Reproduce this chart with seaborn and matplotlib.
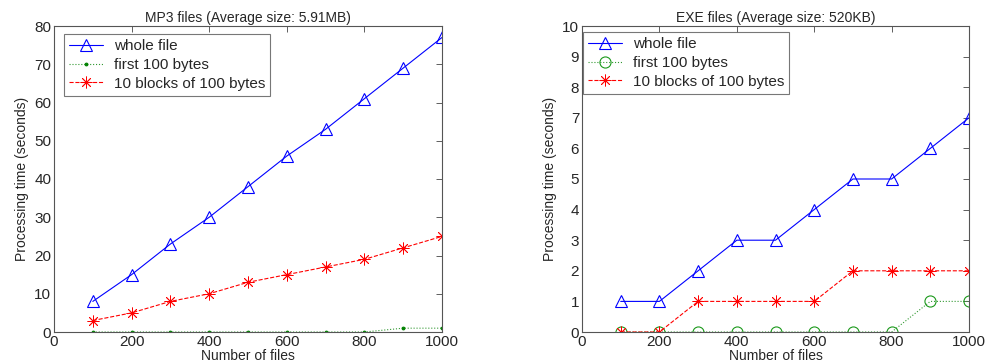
import matplotlib
matplotlib.use("Agg")
import matplotlib.pyplot as plt
import seaborn as sns
import pandas as pd

files = [100, 200, 300, 400, 500, 600, 700, 800, 900, 1000]
series_names = ["whole file", "first 100 bytes", "10 blocks of 100 bytes"]

mp3_whole = [8, 15, 23, 30, 38, 46, 53, 61, 69, 77]
mp3_first = [0, 0, 0, 0, 0, 0, 0, 0, 1, 1]
mp3_blocks = [3, 5, 8, 10, 13, 15, 17, 19, 22, 25]

exe_whole = [1, 1, 2, 3, 3, 4, 5, 5, 6, 7]
exe_first = [0, 0, 0, 0, 0, 0, 0, 0, 1, 1]
exe_blocks = [0, 0, 1, 1, 1, 1, 2, 2, 2, 2]

titles = ["MP3 files (Average size: 5.91MB)", "EXE files (Average size: 520KB)"]
xticks = [0, 200, 400, 600, 800, 1000]
mp3_yticks = [0, 10, 20, 30, 40, 50, 60, 70, 80]
exe_yticks = [0, 1, 2, 3, 4, 5, 6, 7, 8, 9, 10]

sns.set_style("white")
plt.rcParams['font.family'] = ['Liberation Sans', 'DejaVu Sans']

fig = plt.figure(figsize=(9.85, 3.64), dpi=100)
W, H = 985, 364
ax1 = fig.add_axes([54 / W, 1 - 332 / H, (442 - 54) / W, (332 - 26) / H])
ax2 = fig.add_axes([582 / W, 1 - 332 / H, (969 - 582) / W, (332 - 26) / H])

styles = [
    dict(color=(0, 0, 1), linestyle='-', marker='^', markersize=8.5, markerfacecolor='none',
         markeredgecolor=(0, 0, 1), markeredgewidth=0.8, linewidth=0.8),
    None,
    dict(color=(1, 0, 0), linestyle='--', marker=(8, 2, 0), markersize=8.5, markerfacecolor='none',
         markeredgecolor=(1, 0, 0), markeredgewidth=0.6, linewidth=0.8, dashes=(4, 2)),
]
first_mp3 = dict(color=(0.2, 0.6, 0.2), linestyle=':', marker='.', markersize=4,
                 markerfacecolor=(0, 0.5, 0), markeredgecolor=(0, 0.5, 0), linewidth=0.8)
first_exe = dict(color=(0.2, 0.6, 0.2), linestyle=':', marker='o', markersize=8, markerfacecolor='none',
                 markeredgecolor=(0.1, 0.6, 0.1), markeredgewidth=0.8, linewidth=0.8)

panels = [
    (ax1, [mp3_whole, mp3_first, mp3_blocks], first_mp3, mp3_yticks, (0, 80), 64, 34, 54),
    (ax2, [exe_whole, exe_first, exe_blocks], first_exe, exe_yticks, (0, 10), 583, 32, 582),
]

for i, (ax, vals, fst, yt, ylim, lx, ly, ax0) in enumerate(panels):
    for j, (name, v) in enumerate(zip(series_names, vals)):
        st = fst if j == 1 else styles[j]
        df = pd.DataFrame({"files": files, "time": v})
        sns.lineplot(data=df, x="files", y="time", ax=ax, label=name, **st)
    ax.set_xlim(0, 1000)
    ax.set_ylim(*ylim)
    ax.set_xticks(xticks)
    ax.set_yticks(yt)
    ax.tick_params(direction='in', top=True, right=True, length=4, width=0.6,
                   color='#444444', labelsize=11, pad=2)
    for s in ax.spines.values():
        s.set_color('#555555')
        s.set_linewidth(0.8)
    ax.set_title(titles[i], fontsize=10, pad=3)
    ax.set_xlabel("Number of files", fontsize=10, labelpad=0.5)
    ax.set_ylabel("Processing time (seconds)", fontsize=10, labelpad=4)
    leg = ax.legend(loc='upper left', bbox_to_anchor=((lx - ax0) / 387.5, 1 - (ly - 26) / 306),
                    fontsize=11, frameon=True, fancybox=False, borderaxespad=0,
                    handlelength=2.2, handletextpad=0.7, labelspacing=0.3, borderpad=0.35)
    leg.get_frame().set_edgecolor('#555555')
    leg.get_frame().set_linewidth(0.8)

fig.savefig("out.png", dpi=100)
